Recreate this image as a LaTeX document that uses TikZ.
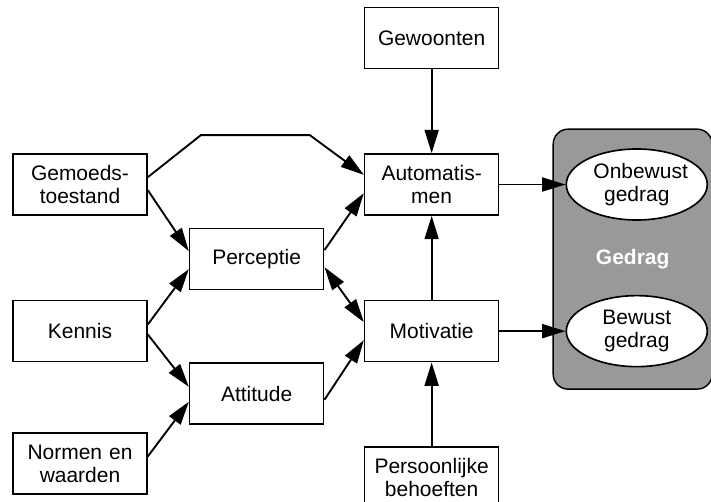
\documentclass[tikz,border=0pt]{standalone}
\usepackage{fontspec}
\setmainfont{Liberation Sans}
\usepackage{tikz}
\usetikzlibrary{shapes,shapes.geometric,arrows,arrows.meta}
\usetikzlibrary{positioning}
\tikzstyle{arrow} = [-{Triangle[length=0.7cm,width=0.42cm]}, line width=1.6pt]
\tikzstyle{dblarrow} = [{Triangle[length=0.7cm,width=0.42cm]}-{Triangle[length=0.7cm,width=0.42cm]}, line width=1.6pt]
\tikzstyle{block} = [rectangle, draw, line width=1.4pt, fill=white,
   text width=3.6cm, inner sep=0.21cm, minimum height=1.83cm, text centered]
\tikzstyle{outcome} = [ellipse, draw, line width=1.4pt, fill=white, inner sep=0pt,
   text width=2.6cm, minimum width=4.23cm, minimum height=2.13cm, text centered]
\tikzstyle{group} = [rectangle, draw, line width=1.2pt, rounded corners=0.45cm, fill=black!40,
   minimum width=4.77cm, minimum height=7.8cm, text=white]

\begin{document}
\begin{tikzpicture}[every node/.style={font=\fontsize{17.9}{19.9}\selectfont}]
\useasboundingbox (0,0) rectangle (21.33,-15.03);

\node (gemoed) [block] at (2.4,-5.535) {Gemoeds-\\toestand};
\node (kennis) [block, below=2.52cm of gemoed] {Kennis};
\node (normen) [block, below=2.1cm of kennis] {Normen en\\ waarden};

\node (percep) [block, below right=0.36cm and 1.23cm of gemoed] {Perceptie};
\node (attit) [block, below=2.16cm of percep] {Attitude};

\node (autom) [block, right=6.48cm of gemoed] {Automatis-\\men};
\node (gewoon) [block, above=2.52cm of autom] {Gewoonten};
\node (motiv) [block, below=2.52cm of autom] {Motivatie};
\node (behoef) [block, below=2.52cm of motiv] {Persoonlijke\\ behoeften};

\node (gedrag) [group, right=6.84cm of percep] {\fontsize{17.9}{19.9}\selectfont\bfseries Gedrag};
\node (onbewust) [outcome, right=1.98cm of autom] {Onbewust\\ gedrag};
\node (bewust) [outcome, right=1.98cm of motiv] {Bewust\\ gedrag};

\draw [arrow] ([yshift=0.22cm]gemoed.east) -- ++(1.59,1.26) -- ++(3.27,0) -- ([yshift=0.29cm]autom.west);
\draw [arrow] ([yshift=-0.17cm]gemoed.east) -- ([yshift=0.24cm]percep.west);
\draw [arrow] ([yshift=0.2cm]kennis.east) -- ([yshift=-0.3cm]percep.west);
\draw [arrow] ([yshift=-0.1cm]kennis.east) -- ([yshift=0.21cm]attit.west);
\draw [arrow] ([yshift=0.22cm]normen.east) -- ([yshift=-0.24cm]attit.west);

\draw [arrow] ([yshift=0.27cm]percep.east) -- ([yshift=-0.26cm]autom.west);
\draw [dblarrow] ([yshift=-0.24cm]percep.east) -- ([yshift=0.27cm]motiv.west);
\draw [arrow] ([yshift=-0.18cm]attit.east) -- ([yshift=-0.27cm]motiv.west);

\draw [arrow] (gewoon) -- (autom);
\draw [arrow] (motiv) -- (autom);
\draw [arrow] (behoef) -- (motiv);

\draw [arrow] (autom) -- (onbewust);
\draw [arrow] (motiv) -- (bewust);

\end{tikzpicture}
\end{document}
